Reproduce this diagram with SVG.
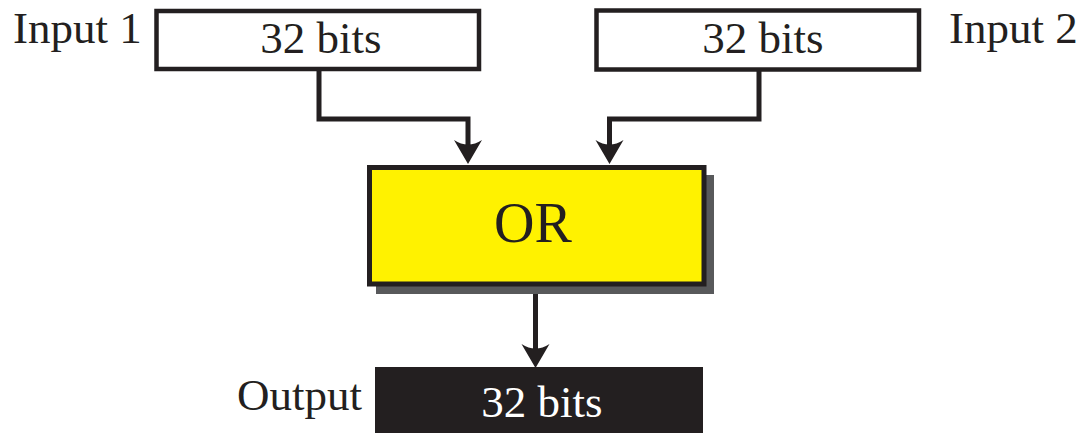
<svg xmlns="http://www.w3.org/2000/svg" width="1082" height="433" viewBox="0 0 1082 433">
  <style>
    .lbl { font-family: "Liberation Serif", "Times New Roman", serif; font-size: 45px; fill: #231f20; }
    .box { fill: #ffffff; stroke: #231f20; stroke-width: 4.5; }
    .wire { fill: none; stroke: #231f20; stroke-width: 5; stroke-linejoin: miter; }
    .head { fill: #231f20; }
  </style>
  <defs>
    <!-- swept-back arrowhead, tip at origin pointing down -->
    <path id="arrow" class="head" d="M0,0 L-14,-24 Q0,-15 14,-24 Z"/>
  </defs>

  <rect width="1082" height="433" fill="#ffffff"/>

  <g id="connectors">
    <polyline class="wire" points="319,69 319,119 468,119 468,150"/>
    <use href="#arrow" x="468" y="164"/>
    <polyline class="wire" points="759,70 759,119 609.5,119 609.5,150"/>
    <use href="#arrow" x="609.5" y="164"/>
    <line class="wire" x1="535.5" y1="287" x2="535.5" y2="355"/>
    <use href="#arrow" x="535.5" y="368"/>
  </g>

  <g id="input1">
    <text class="lbl" x="13" y="43">Input 1</text>
    <rect class="box" x="156.5" y="11" width="322.5" height="58"/>
    <text class="lbl" x="321" y="53" text-anchor="middle">32 bits</text>
  </g>

  <g id="input2">
    <rect class="box" x="596.5" y="10.5" width="322.5" height="59"/>
    <text class="lbl" x="763" y="53" text-anchor="middle">32 bits</text>
    <text class="lbl" x="949" y="43">Input 2</text>
  </g>

  <g id="or-gate">
    <rect x="376" y="175" width="338" height="119" fill="#58595b"/>
    <rect x="369.5" y="167.5" width="334.5" height="116.5" fill="#fff200" stroke="#231f20" stroke-width="5"/>
    <text class="lbl" x="533" y="242" text-anchor="middle" style="font-size:56px">OR</text>
  </g>

  <g id="output">
    <text class="lbl" x="237" y="410">Output</text>
    <rect x="375" y="367" width="328" height="70" fill="#231f20"/>
    <text class="lbl" x="542" y="417" text-anchor="middle" style="fill:#ffffff">32 bits</text>
  </g>
</svg>
